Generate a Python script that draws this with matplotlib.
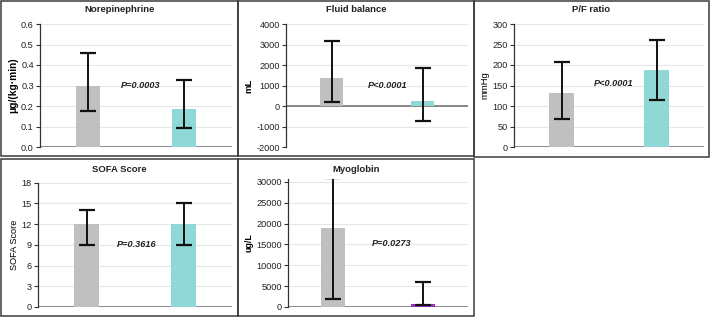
import matplotlib
matplotlib.use("Agg")
import matplotlib.pyplot as plt
from matplotlib.patches import Rectangle

plt.rcParams['font.family'] = ['Liberation Sans', 'DejaVu Sans']

W, H = 712, 319

# Data (group 1 = grey, group 2 = coloured)
titles = ['Norepinephrine', 'Fluid balance', 'P/F ratio', 'SOFA Score', 'Myoglobin']
ylabels = ['μg/(kg·min)', 'mL', 'mmHg', 'SOFA Score', 'ug/L']
ylabel_bold = [True, True, False, False, True]
ylabel_size = [7.3, 6.8, 6.8, 6.6, 6.4]
means = [[0.30, 0.185], [1380, 250], [132, 188], [12, 12], [18900, 750]]
err_low = [[0.175, 0.095], [200, -750], [68, 115], [9, 9], [2000, 500]]
err_high = [[0.46, 0.325], [3150, 1850], [208, 260], [14, 15], [31000, 5900]]
p_texts = ['P=0.0003', 'P<0.0001', 'P<0.0001', 'P=0.3616', 'P=0.0273']
p_pos = [(0.55, 0.30), (0.62, 1000), (0.55, 155), (0.52, 9.1), (0.65, 15200)]
yticks = [
    [0.0, 0.1, 0.2, 0.3, 0.4, 0.5, 0.6],
    [-2000, -1000, 0, 1000, 2000, 3000, 4000],
    [0, 50, 100, 150, 200, 250, 300],
    [0, 3, 6, 9, 12, 15, 18],
    [0, 5000, 10000, 15000, 20000, 25000, 30000],
]
ytick_fmt = ['{:.1f}', '{:d}', '{:d}', '{:d}', '{:d}']
ylims = [(0, 0.6), (-2000, 4000), (0, 300), (0, 18), (0, 30800)]
bar_colors = [['#c0c0c0', '#8fd8d5']] * 4 + [['#c0c0c0', '#9a2fc0']]

# pixel layout: axes (left, top, right, bottom) and frame boxes
axes_px = [(40, 24, 232, 147), (286, 24, 468, 147), (514, 24, 704, 147),
           (38, 182.7, 232, 307), (288, 178.6, 468, 307)]
frames_px = [(1, 1, 238, 156), (238, 1, 474, 156), (474, 1, 709, 157),
             (1, 159, 238, 316), (238, 159, 474, 316)]
title_y = [10, 10, 10, 169, 169]

fig = plt.figure(figsize=(W / 100, H / 100), dpi=100)

for (x0, y0, x1, y1) in frames_px:
    fig.patches.append(Rectangle((x0 / W, 1 - y1 / H), (x1 - x0) / W, (y1 - y0) / H,
                                 transform=fig.transFigure, fill=False,
                                 edgecolor='#3a3a3a', linewidth=1.1))

for i in range(5):
    l, t, r, b = axes_px[i]
    ax = fig.add_axes([l / W, 1 - b / H, (r - l) / W, (b - t) / H])
    xs = [0, 1]
    lo = [means[i][k] - err_low[i][k] for k in range(2)]
    hi = [err_high[i][k] - means[i][k] for k in range(2)]
    ax.bar(xs, means[i], width=0.26, color=bar_colors[i], zorder=2)
    ax.errorbar(xs, means[i], yerr=[lo, hi], fmt='none', ecolor='#111111',
                elinewidth=1.4, capsize=5.8, capthick=1.6, zorder=3)
    ax.set_xlim(-0.5, 1.5)
    ax.set_ylim(*ylims[i])
    ax.set_yticks(yticks[i])
    ax.set_yticklabels([ytick_fmt[i].format(v) for v in yticks[i]])
    ax.set_xticks([])
    for v in yticks[i]:
        ax.axhline(v, color='#e6e6e6', linewidth=0.8, zorder=0)
    ax.axhline(0, color='#808080', linewidth=1.3, zorder=1)
    for s in ['top', 'right', 'bottom']:
        ax.spines[s].set_visible(False)
    ax.spines['left'].set_color('#333333')
    ax.spines['left'].set_linewidth(0.9)
    ax.tick_params(axis='y', length=3, width=0.8, color='#333333',
                   labelsize=6.6, labelcolor='#222222', pad=1.5)
    ax.set_ylabel(ylabels[i], fontsize=ylabel_size[i],
                  fontweight='bold' if ylabel_bold[i] else 'normal', labelpad=2)
    ax.text(p_pos[i][0], p_pos[i][1], p_texts[i], fontsize=6.6,
            fontweight='bold', fontstyle='italic', ha='center', va='center',
            color='#222222', zorder=4)
    fx0, _, fx1, _ = frames_px[i]
    fig.text((fx0 + fx1) / 2 / W, 1 - title_y[i] / H, titles[i],
             fontsize=6.8, fontweight='bold', ha='center', va='center',
             color='#222222')

fig.savefig('out.png', dpi=100)
